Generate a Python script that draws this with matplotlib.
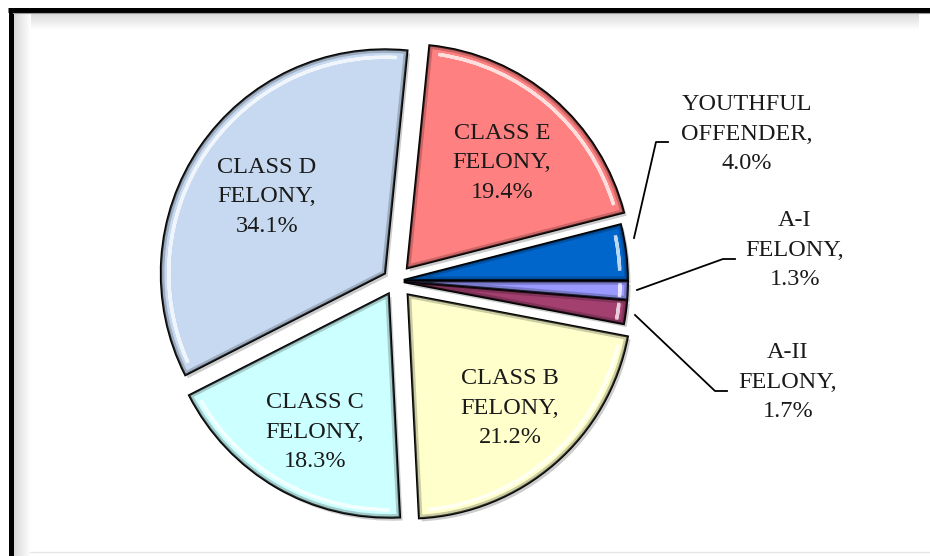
import numpy as np
import matplotlib.pyplot as plt
from matplotlib.patches import Wedge
from matplotlib.colors import to_rgb

# slices, counterclockwise from 3 o'clock
categories = ["YOUTHFUL\nOFFENDER,", "CLASS E\nFELONY,", "CLASS D\nFELONY,",
              "CLASS C\nFELONY,", "CLASS B\nFELONY,", "A-II\nFELONY,", "A-I\nFELONY,"]
shares = [4.0, 19.4, 34.1, 18.3, 21.2, 1.7, 1.3]
colors = ["#0066cc", "#ff8080", "#c6d9f0", "#ccffff", "#ffffcc", "#a3406f", "#9999ff"]
explode = [0.035, 0.075, 0.06, 0.065, 0.08, 0.035, 0.035]

# label placement in pixels (centre of the text block) and leader lines
label_px = [(747, 134), (502, 163), (267, 197), (315, 432), (510, 408), (788, 382), (795, 250)]
leaders = {0: [(634, 238), (656, 142), (668, 142)],
           5: [(635, 315), (715, 391), (727, 391)],
           6: [(637, 290), (723, 259), (735, 259)]}

W, H = 930, 556
CX, CY, R = 396, 281, 224   # pie centre / radius in pixels


def px(x, y):
    return (x - CX) / R, (CY - y) / R


fig = plt.figure(figsize=(9.3, 5.56), dpi=100)

# --- frame and bevelled plot area ---
bg = fig.add_axes([0, 0, 1, 1])
bg.set_xlim(0, W)
bg.set_ylim(H, 0)
bg.axis("off")
grad = np.linspace(0.84, 1.0, 64)
bg.imshow(np.tile(grad[:, None], (1, 2)), cmap="gray", vmin=0, vmax=1,
          extent=[13, 918, 30, 12], aspect="auto", zorder=1)
bg.imshow(np.tile(grad[None, :], (2, 1)), cmap="gray", vmin=0, vmax=1,
          extent=[13, 30, 556, 12], aspect="auto", zorder=1)
bg.plot([8, W], [9.5, 9.5], color="black", lw=3.6, solid_capstyle="butt", zorder=3)
bg.plot([10.5, 10.5], [8, H], color="black", lw=3.6, solid_capstyle="butt", zorder=3)
bg.plot([13, W], [12.5, 12.5], color="#9a9a9a", lw=0.8, zorder=3)
bg.plot([30, W], [552, 552], color="#e6e6e6", lw=1.0, zorder=3)

# --- pie ---
ax = fig.add_axes([0, 0, 1, 1])
ax.patch.set_visible(False)
wedges, _ = ax.pie(shares, colors=colors, explode=explode, startangle=0,
                   counterclock=True, radius=1.0,
                   wedgeprops=dict(edgecolor="black", linewidth=1.6))

for w, c in zip(wedges, colors):
    cx, cy = w.center
    t1, t2 = w.theta1, w.theta2
    # drop shadow
    sh = Wedge((cx + 0.012, cy - 0.014), w.r, t1, t2, facecolor="#000000",
               alpha=0.2, edgecolor="none", zorder=w.get_zorder() - 0.5)
    ax.add_patch(sh)
    # inner dark rim
    dark = tuple(v * 0.5 for v in to_rgb(c))
    rim = Wedge((cx, cy), w.r, t1, t2, facecolor="none", edgecolor=dark,
                lw=5, alpha=0.4, zorder=w.get_zorder() + 0.1)
    rim.set_clip_path(w)
    ax.add_patch(rim)
    # highlight along the outer arc
    span = t2 - t1
    inset = min(3.0, span * 0.2)
    hl = Wedge((cx, cy), w.r * 0.965, t1 + inset, t2 - inset, width=0.0001,
               facecolor="none", edgecolor="white", lw=2.4, alpha=0.75,
               zorder=w.get_zorder() + 0.2)
    hl.set_clip_path(w)
    ax.add_patch(hl)

font = dict(family=["Liberation Serif", "DejaVu Serif"], size=17.5, color="#1a1a1a")
for name, val, (lx, ly) in zip(categories, shares, label_px):
    x, y = px(lx, ly)
    ax.text(x, y, f"{name}\n{val:.1f}%", ha="center", va="center",
            linespacing=1.55, zorder=10, **font)

for i, pts in leaders.items():
    xs, ys = zip(*[px(a, b) for a, b in pts])
    ax.plot(xs, ys, color="black", lw=1.3, zorder=9)

x0, y0 = px(0, H)
x1, y1 = px(W, 0)
ax.set_xlim(x0, x1)
ax.set_ylim(y0, y1)
ax.set_aspect("auto")
ax.axis("off")

fig.savefig("out.png", dpi=100)
